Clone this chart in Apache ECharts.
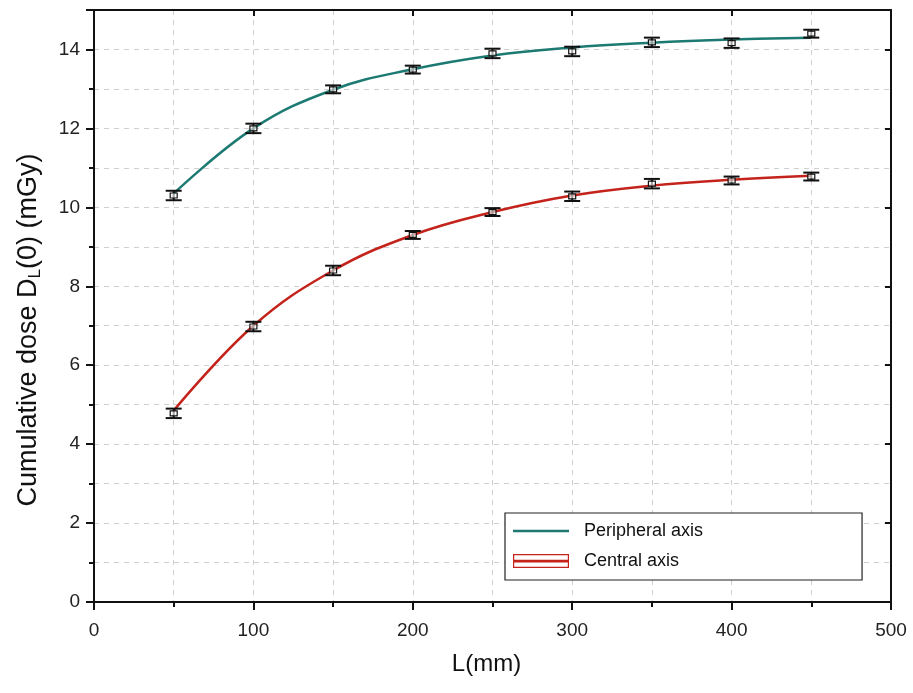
<!DOCTYPE html>
<html>
<head>
<meta charset="utf-8">
<script src="https://cdn.jsdelivr.net/npm/echarts@6/dist/echarts.min.js"></script>
<style>html,body{margin:0;padding:0;background:#fff}#c{width:913px;height:693px}</style>
</head>
<body>
<div id="c"></div>
<script>
// Data
const lengths = [50, 100, 150, 200, 250, 300, 350, 400, 450];
const peripheralDose = [10.3, 12.0, 12.99, 13.49, 13.9, 13.95, 14.18, 14.16, 14.4];
const peripheralErr  = [0.12, 0.12, 0.1, 0.1, 0.12, 0.12, 0.12, 0.12, 0.1];
const peripheralFit  = [10.35, 12.0, 12.98, 13.5, 13.85, 14.05, 14.17, 14.25, 14.3];
const centralDose = [4.78, 6.98, 8.4, 9.3, 9.88, 10.28, 10.6, 10.68, 10.78];
const centralErr  = [0.12, 0.12, 0.12, 0.1, 0.1, 0.12, 0.12, 0.1, 0.1];
const centralFit  = [4.85, 7.0, 8.4, 9.3, 9.88, 10.3, 10.55, 10.7, 10.8];
const xTicks = [0, 100, 200, 300, 400, 500];
const yTicks = [0, 2, 4, 6, 8, 10, 12, 14];

const FONT = '"Liberation Sans", Arial, sans-serif';
const TEAL = '#1d7a73';
const RED = '#c4231b';

function pairs(xs, ys) { return xs.map((x, i) => [x, ys[i]]); }
function triples(xs, ys, es) { return xs.map((x, i) => [x, ys[i], es[i]]); }

function errRender(params, api) {
  const x = api.value(0), y = api.value(1), e = api.value(2);
  const c = api.coord([x, y]);
  const hi = api.coord([x, y + e]);
  const lo = api.coord([x, y - e]);
  const w = 8;
  const st = { stroke: '#111', lineWidth: 2 };
  return {
    type: 'group',
    children: [
      { type: 'line', shape: { x1: c[0], y1: hi[1], x2: c[0], y2: lo[1] }, style: st },
      { type: 'line', shape: { x1: c[0] - w, y1: hi[1], x2: c[0] + w, y2: hi[1] }, style: st },
      { type: 'line', shape: { x1: c[0] - w, y1: lo[1], x2: c[0] + w, y2: lo[1] }, style: st },
      { type: 'rect', shape: { x: c[0] - 3.5, y: c[1] - 2.5, width: 7, height: 5 }, style: { stroke: '#111', lineWidth: 1.2, fill: 'rgba(255,255,255,0.6)' } }
    ]
  };
}

const gridLine = { show: true, lineStyle: { color: '#cfcfcf', type: [5, 5], width: 1 } };
const axisLineStyle = { show: true, onZero: false, lineStyle: { color: '#111', width: 2 } };

const option = {
  backgroundColor: '#fff',
  animation: false,
  grid: { left: 94, right: 22, top: 10, bottom: 91, show: false },
  legend: {
    orient: 'vertical',
    left: 505, top: 513,
    padding: [9, 159, 10, 8],
    borderColor: '#222', borderWidth: 1.2,
    backgroundColor: '#fff',
    itemWidth: 56, itemHeight: 14, itemGap: 12,
    textStyle: { fontFamily: FONT, fontSize: 18, color: '#111', padding: [0, 0, 0, 10] },
    data: [
      { name: 'Peripheral axis', icon: 'path://M0,6h56v2.5h-56z', itemStyle: { color: TEAL } },
      { name: 'Central axis', icon: 'path://M0,0h56v1.2h-56z M0,12.8h56v1.2h-56z M0,0h1.2v14h-1.2z M54.8,0h1.2v14h-1.2z M0,5.8h56v2.6h-56z', itemStyle: { color: RED } }
    ]
  },
  xAxis: [{
    type: 'value', min: 0, max: 500, interval: 100,
    name: 'L(mm)', nameLocation: 'middle', nameGap: 50,
    nameTextStyle: { fontFamily: FONT, fontSize: 24, color: '#111', padding: [0, 12, 0, 0] },
    axisLine: axisLineStyle,
    axisTick: { show: true, inside: false, length: 8, lineStyle: { color: '#111', width: 2 } },
    minorTick: { show: true, splitNumber: 2, length: 5, lineStyle: { color: '#111', width: 2 } },
    axisLabel: { fontFamily: FONT, fontSize: 19, color: '#222', margin: 19,
      formatter: v => xTicks.includes(v) ? String(v) : '' },
    splitLine: gridLine,
    minorSplitLine: gridLine
  }, {
    type: 'value', position: 'top', min: 0, max: 500, interval: 100,
    axisLine: axisLineStyle,
    axisTick: { show: true, inside: true, length: 6, lineStyle: { color: '#111', width: 2 } },
    axisLabel: { show: false }, splitLine: { show: false }
  }],
  yAxis: [{
    type: 'value', min: 0, max: 15, interval: 2,
    name: '{a|Cumulative dose D}{s|L}{a|(0) (mGy)}',
    nameLocation: 'middle', nameGap: 50, nameRotate: 90,
    nameTextStyle: { padding: [0, 48, 0, 0], rich: {
      a: { fontFamily: FONT, fontSize: 27, color: '#111' },
      s: { fontFamily: FONT, fontSize: 17, color: '#111', verticalAlign: 'bottom', padding: [14, 0, 0, 0] }
    } },
    axisLine: axisLineStyle,
    axisTick: { show: true, inside: false, length: 8, lineStyle: { color: '#111', width: 2 } },
    minorTick: { show: true, splitNumber: 2, length: 5, lineStyle: { color: '#111', width: 2 } },
    axisLabel: { fontFamily: FONT, fontSize: 19, color: '#222', margin: 14, showMaxLabel: false,
      formatter: v => yTicks.includes(v) ? String(v) : '' },
    splitLine: gridLine,
    minorSplitLine: gridLine
  }, {
    type: 'value', position: 'right', min: 0, max: 15, interval: 2,
    axisLine: axisLineStyle,
    axisTick: { show: true, inside: true, length: 6, lineStyle: { color: '#111', width: 2 } },
    axisLabel: { show: false }, splitLine: { show: false }
  }],
  series: [
    { name: 'Peripheral axis', type: 'line', smooth: 0.4, showSymbol: false, symbol: 'none',
      data: pairs(lengths, peripheralFit), lineStyle: { color: TEAL, width: 2.5 }, itemStyle: { color: TEAL }, z: 3 },
    { name: 'Central axis', type: 'line', smooth: 0.4, showSymbol: false, symbol: 'none',
      data: pairs(lengths, centralFit), lineStyle: { color: RED, width: 2.5 }, itemStyle: { color: RED }, z: 3 },
    { name: 'Peripheral points', type: 'custom', renderItem: errRender,
      data: triples(lengths, peripheralDose, peripheralErr), z: 5 },
    { name: 'Central points', type: 'custom', renderItem: errRender,
      data: triples(lengths, centralDose, centralErr), z: 5 }
  ]
};

const chart = echarts.init(document.getElementById('c'), null, { renderer: 'canvas' });
chart.setOption(option);
</script>
</body>
</html>
